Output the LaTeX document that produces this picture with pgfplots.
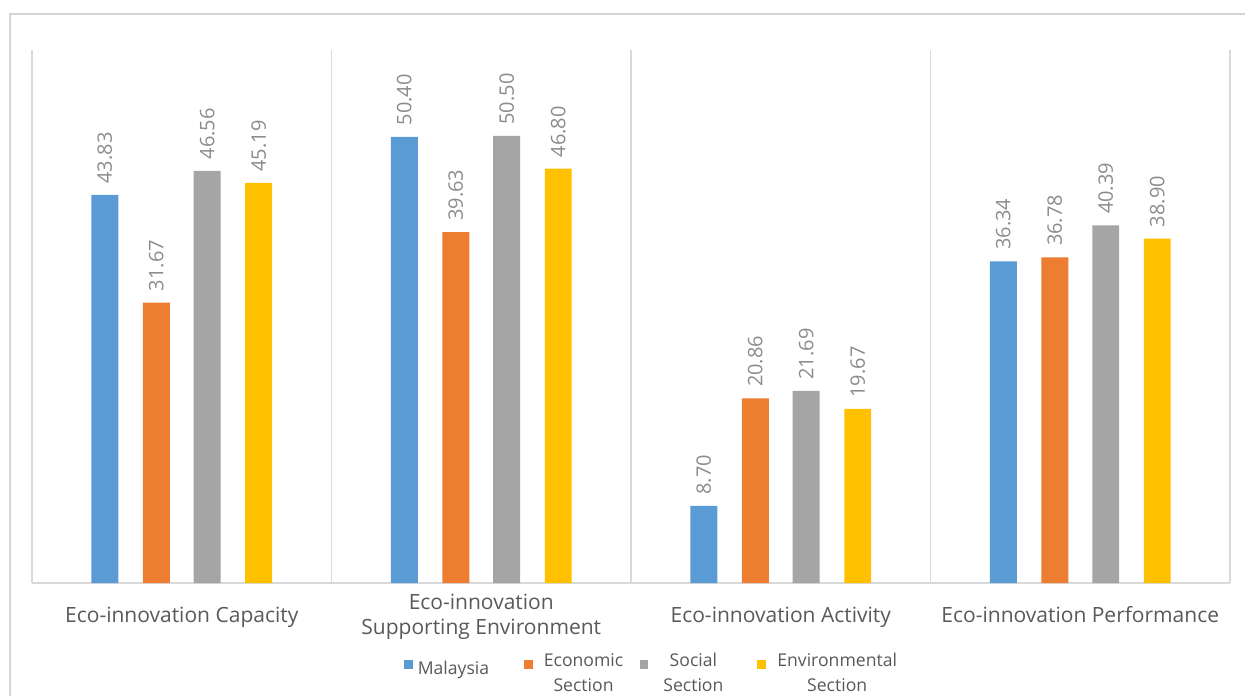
\documentclass[border=0pt]{standalone}
\usepackage{pgfplots}
\pgfplotsset{compat=1.18}
\usepackage{fontspec}
\setmainfont{Open Sans}
\definecolor{cblue}{HTML}{5B9BD5}
\definecolor{corange}{HTML}{ED7D31}
\definecolor{cgray}{HTML}{A5A5A5}
\definecolor{cyellow}{HTML}{FFC000}
\definecolor{axisgray}{HTML}{D9D9D9}
\definecolor{labelgray}{HTML}{595959}
\definecolor{numgray}{HTML}{8C8C8C}
\definecolor{framegray}{HTML}{D4D4D4}
\pgfplotsset{mylegend/.style={legend image code/.code={\fill[##1] (0pt,-2.2pt) rectangle (4.4pt,2.2pt);}}}
\newcommand{\lgd}[1]{\begin{tabular}{@{}c@{}}#1\end{tabular}}
\begin{document}
\begin{tikzpicture}
\draw[framegray, line width=0.75pt] (5pt,0pt) -- (5pt,341pt) -- (622.5pt,341pt);
\begin{axis}[
  at={(16pt,56.5pt)}, anchor=south west,
  width=599pt, height=266.5pt, scale only axis,
  xmin=-0.5, xmax=3.5, ymin=0, ymax=60.2,
  axis y line=none, axis x line*=bottom,
  x axis line style={draw=axisgray, line width=0.7pt},
  ybar, bar width=0.09,
  xtick={0,1,2,3},
  xticklabels={Eco-innovation Capacity, {\begin{tabular}{@{}c@{}}Eco-innovation\\Supporting Environment\end{tabular}}, Eco-innovation Activity, Eco-innovation Performance},
  major x tick style={draw=none},
  xticklabel style={font=\fontsize{10.5}{12.5}\selectfont, text=labelgray, anchor=base, yshift=-15.35pt},
  extra x ticks={-0.5,0.5,1.5,2.5,3.5}, extra x tick labels={},
  extra x tick style={grid=major, major grid style={draw=axisgray, line width=0.7pt}, major tick length=0pt},
  /pgf/number format/assume math mode=true,
  /pgf/number format/fixed,
  /pgf/number format/fixed zerofill,
  /pgf/number format/precision=2,
  nodes near coords,
  every node near coord/.append style={rotate=90, anchor=west, inner xsep=5.5pt, font=\fontsize{10}{12}\selectfont, text=numgray},
  legend columns=4,
  legend style={at={(0.3105,-0.1535)}, anchor=west, draw=none, inner sep=0pt, outer sep=0pt,
    font=\fontsize{8.8}{12.75}\selectfont, text=labelgray,
    nodes={inner sep=0pt},
    /tikz/every odd column/.append style={column sep=2.5pt},
    /tikz/every even column/.append style={column sep=0pt}},
]
\addplot[fill=cblue, draw=none, bar shift=-0.257, mylegend] coordinates {(0,43.83) (1,50.40) (2,8.70) (3,36.34)};
\addplot[fill=corange, draw=none, bar shift=-0.085, mylegend] coordinates {(0,31.67) (1,39.63) (2,20.86) (3,36.78)};
\addplot[fill=cgray, draw=none, bar shift=0.085, mylegend] coordinates {(0,46.56) (1,50.50) (2,21.69) (3,40.39)};
\addplot[fill=cyellow, draw=none, bar shift=0.257, mylegend] coordinates {(0,45.19) (1,46.80) (2,19.67) (3,38.90)};
\addlegendentry{\makebox[53pt][l]{\raisebox{-2.25pt}{\lgd{Malaysia}}}}
\addlegendentry{\makebox[51pt][l]{\makebox[46pt][c]{\lgd{Economic\\Section}}}}
\addlegendentry{\makebox[52pt][l]{\makebox[40pt][c]{\lgd{Social\\Section}}}}
\addlegendentry{\makebox[66pt][l]{\makebox[66pt][c]{\lgd{Environmental\\Section}}}}
\end{axis}
\pgfresetboundingbox
\path (0,0) rectangle (622.5pt,348pt);
\end{tikzpicture}
\end{document}
